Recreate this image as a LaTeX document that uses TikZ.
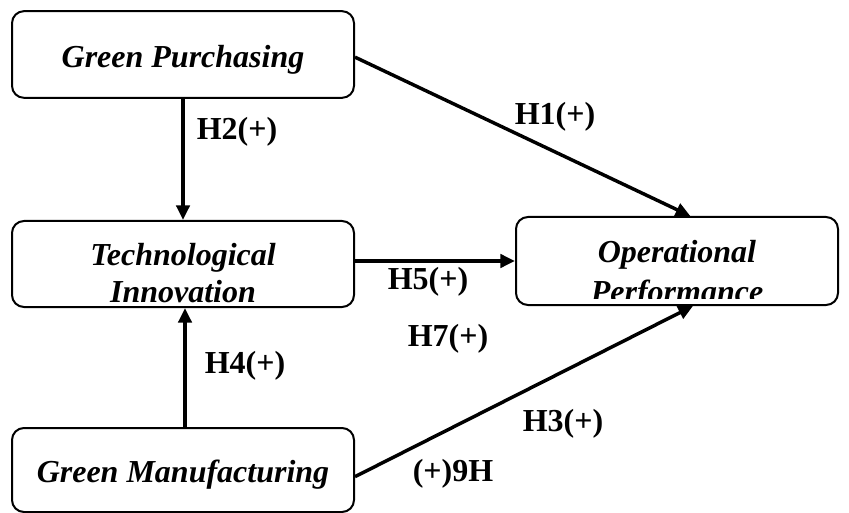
\documentclass[tikz,border=0pt]{standalone}
\usepackage{fontspec}
\setmainfont{Liberation Serif}
\usetikzlibrary{arrows.meta}

\tikzset{
  box/.style={draw, line width=1.5pt, rounded corners=9pt, minimum width=256.5pt,
    inner sep=0pt},
  boxtext/.style={align=center, inner sep=0pt, font=\fontsize{24}{28}\selectfont\bfseries\itshape},
  arr/.style={line width=2.6pt, -{Triangle[length=11pt,width=10pt]}},
  hyp/.style={font=\fontsize{24}{28}\selectfont\bfseries, inner sep=0pt}
}

\begin{document}
\begin{tikzpicture}[x=0.75pt,y=-0.75pt] % pixel grid
\useasboundingbox (0,0) rectangle (849,513);
\node[box, minimum height=65pt] (gp) at (183,54.5) {};
\node[box, minimum height=64.5pt] (ti) at (183,264) {};
\node[box, minimum height=63pt] (gm) at (183,470) {};
\node[box, minimum height=66pt, minimum width=241.5pt] (op) at (677,261) {};
\node[boxtext] (gptext) at (183,60) {Green Purchasing};
\node[boxtext] (titext) at (183,273) {Technological\\Innovation};
\node[boxtext] (gmtext) at (183,475) {Green Manufacturing};
\begin{scope}
\clip (op.north west) rectangle ([yshift=5.5pt]op.south east);
\node[boxtext, font=\fontsize{24}{30}\selectfont\bfseries\itshape] (optext) at (677,275) {Operational\\Performance};
\end{scope}

\draw[arr] (gp.south) -- (ti.north);
\draw[arr] ([xshift=1.5pt]gm.north) -- ([xshift=1.5pt]ti.south);
\draw[arr] ([yshift=-2pt]gp.east) -- ([xshift=10pt]op.north);
\draw[arr] (op.west -| ti.east) -- (op.west);
\draw[arr] ([yshift=-5pt]gm.east) -- ([xshift=12pt]op.south);

\node[hyp] (h1) at (555,117) {H1(+)};
\node[hyp] (h2) at (237,132) {H2(+)};
\node[hyp] (h5) at (428,282) {H5(+)};
\node[hyp] (h7) at (448,339) {H7(+)};
\node[hyp] (h4) at (245,366) {H4(+)};
\node[hyp] (h3) at (563,424) {H3(+)};
\node[hyp] (h9) at (453,474) {(+)9H};
\end{tikzpicture}
\end{document}
